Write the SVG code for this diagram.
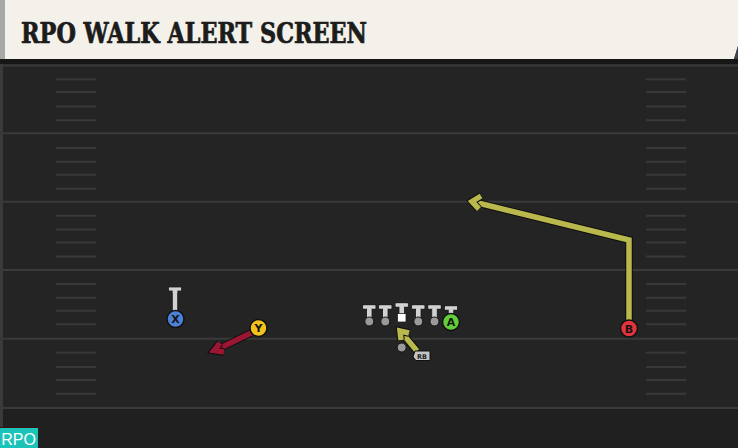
<svg xmlns="http://www.w3.org/2000/svg" width="738" height="448" viewBox="0 0 738 448">
<defs>
<style>
.yard{stroke:#3a3a3a;stroke-width:2;}
.hash{stroke:#383838;stroke-width:2;}
.route-o{fill:none;stroke:#0d0d0d;stroke-width:7.5;stroke-linejoin:miter;stroke-linecap:butt;}
.route-y{fill:none;stroke:#b9b84c;stroke-width:5.5;stroke-linejoin:miter;stroke-linecap:butt;}
.route-r{fill:none;stroke:#9a1632;stroke-width:5.5;stroke-linejoin:miter;stroke-linecap:butt;}
.ring{stroke:#111;stroke-width:1.5;}
.lbl{font-family:"DejaVu Sans","Liberation Sans",sans-serif;font-weight:bold;font-size:11px;fill:#151515;text-anchor:middle;}
.dot{fill:#9a9a9a;stroke:#111;stroke-width:1;}
</style>
<g id="tbar">
<rect x="-6.5" y="0" width="13" height="4" fill="#d2d2d2" stroke="#1a1a1a" stroke-width="0.8"/>
<rect x="-2.7" y="4" width="5.4" height="10" fill="#d2d2d2" stroke="#1a1a1a" stroke-width="0.8"/>
<rect x="-6" y="0.5" width="12" height="3" fill="#d2d2d2"/>
<rect x="-2.2" y="3" width="4.4" height="2" fill="#d2d2d2"/>
</g>
</defs>
<rect x="0" y="0" width="738" height="448" fill="#242424"/>
<rect x="0" y="408" width="738" height="40" fill="#202020"/>
<rect x="0" y="0" width="3" height="448" fill="#3a3a3a"/>
<rect x="0" y="58" width="738" height="6" fill="#161616"/>
<g id="header">
<path d="M0 0 H738 V46 L734 59 H0 Z" fill="#f4f1ea"/>
<rect x="0" y="0" width="5" height="59" fill="#a8a8a8"/>
<path d="M734 59 L738 46 V59 Z" fill="#3a4450"/>
<text x="21" y="43" font-family="'DejaVu Serif Condensed','DejaVu Serif','Liberation Serif',serif" font-weight="bold" font-size="28" fill="#1c1c1c" stroke="#1c1c1c" stroke-width="0.7" textLength="346" lengthAdjust="spacingAndGlyphs">RPO WALK ALERT SCREEN</text>
</g>
<g id="field">
<line class="yard" x1="0" y1="65.5" x2="738" y2="65.5"/>
<line class="yard" x1="0" y1="133.3" x2="738" y2="133.3"/>
<line class="yard" x1="0" y1="201.7" x2="738" y2="201.7"/>
<line class="yard" x1="0" y1="270" x2="738" y2="270"/>
<line class="yard" x1="0" y1="338.7" x2="738" y2="338.7"/>
<line class="yard" x1="0" y1="408" x2="738" y2="408"/>
<g id="hashes-left">
<line class="hash" x1="56" y1="79.3" x2="96" y2="79.3"/><line class="hash" x1="56" y1="92" x2="96" y2="92"/><line class="hash" x1="56" y1="106.5" x2="96" y2="106.5"/><line class="hash" x1="56" y1="120.3" x2="96" y2="120.3"/>
<line class="hash" x1="56" y1="148" x2="96" y2="148"/><line class="hash" x1="56" y1="161.7" x2="96" y2="161.7"/><line class="hash" x1="56" y1="174.7" x2="96" y2="174.7"/><line class="hash" x1="56" y1="188.7" x2="96" y2="188.7"/>
<line class="hash" x1="56" y1="215.7" x2="96" y2="215.7"/><line class="hash" x1="56" y1="229.4" x2="96" y2="229.4"/><line class="hash" x1="56" y1="242.4" x2="96" y2="242.4"/><line class="hash" x1="56" y1="256.4" x2="96" y2="256.4"/>
<line class="hash" x1="56" y1="284" x2="96" y2="284"/><line class="hash" x1="56" y1="297.7" x2="96" y2="297.7"/><line class="hash" x1="56" y1="310.7" x2="96" y2="310.7"/><line class="hash" x1="56" y1="324.3" x2="96" y2="324.3"/>
<line class="hash" x1="56" y1="352.7" x2="96" y2="352.7"/><line class="hash" x1="56" y1="367" x2="96" y2="367"/><line class="hash" x1="56" y1="380" x2="96" y2="380"/><line class="hash" x1="56" y1="393.7" x2="96" y2="393.7"/>
</g>
<g id="hashes-right">
<line class="hash" x1="646" y1="79.3" x2="686" y2="79.3"/><line class="hash" x1="646" y1="92" x2="686" y2="92"/><line class="hash" x1="646" y1="106.5" x2="686" y2="106.5"/><line class="hash" x1="646" y1="120.3" x2="686" y2="120.3"/>
<line class="hash" x1="646" y1="148" x2="686" y2="148"/><line class="hash" x1="646" y1="161.7" x2="686" y2="161.7"/><line class="hash" x1="646" y1="174.7" x2="686" y2="174.7"/><line class="hash" x1="646" y1="188.7" x2="686" y2="188.7"/>
<line class="hash" x1="646" y1="215.7" x2="686" y2="215.7"/><line class="hash" x1="646" y1="229.4" x2="686" y2="229.4"/><line class="hash" x1="646" y1="242.4" x2="686" y2="242.4"/><line class="hash" x1="646" y1="256.4" x2="686" y2="256.4"/>
<line class="hash" x1="646" y1="284" x2="686" y2="284"/><line class="hash" x1="646" y1="297.7" x2="686" y2="297.7"/><line class="hash" x1="646" y1="310.7" x2="686" y2="310.7"/><line class="hash" x1="646" y1="324.3" x2="686" y2="324.3"/>
<line class="hash" x1="646" y1="352.7" x2="686" y2="352.7"/><line class="hash" x1="646" y1="367" x2="686" y2="367"/><line class="hash" x1="646" y1="380" x2="686" y2="380"/><line class="hash" x1="646" y1="393.7" x2="686" y2="393.7"/>
</g>
</g>
<g id="connectors">
<path class="route-o" d="M629 322 V240 L474 202"/>
<path class="route-y" d="M629 322 V240 L474 202"/>
<path class="route-o" d="M481 196 L472 201.5 L479 209"/>
<path class="route-y" d="M481 196 L472 201.5 L479 209"/>
<path class="route-o" d="M251 333 L216 350"/>
<path class="route-r" d="M251 333 L216 350"/>
<path class="route-o" d="M220 343 L214 350.5 L224 352"/>
<path class="route-r" d="M220 343 L214 350.5 L224 352"/>
<path class="route-o" d="M417 351 L402 333"/>
<path class="route-y" d="M417 351 L402 333"/>
<path class="route-o" d="M401 340 L400 331 L409 333"/>
<path class="route-y" d="M401 340 L400 331 L409 333"/>
</g>
<g id="player-x">
<rect x="172.3" y="290" width="5.4" height="22" fill="#d2d2d2" stroke="#1a1a1a" stroke-width="0.8"/>
<rect x="168.5" y="287" width="13" height="4" fill="#d2d2d2" stroke="#1a1a1a" stroke-width="0.8"/>
<rect x="172.7" y="290" width="4.6" height="3" fill="#d2d2d2"/>
<circle class="ring" cx="175.5" cy="319" r="8.5" fill="#4d80d8"/>
<text class="lbl" x="175.5" y="323">X</text>
</g>
<g id="player-y">
<circle class="ring" cx="258.5" cy="328" r="8.5" fill="#f3c21c"/>
<text class="lbl" x="258.5" y="332">Y</text>
</g>
<g id="ol-1"><use href="#tbar" x="369.3" y="305"/><circle class="dot" cx="369.3" cy="321.5" r="4.5"/></g>
<g id="ol-2"><use href="#tbar" x="385.3" y="305"/><circle class="dot" cx="385.3" cy="321.5" r="4.5"/></g>
<g id="center"><use href="#tbar" x="401.7" y="303"/><rect x="397.5" y="313.5" width="8.5" height="8.5" fill="#ffffff" stroke="#222" stroke-width="0.8"/></g>
<g id="ol-4"><use href="#tbar" x="418.3" y="305"/><circle class="dot" cx="418.3" cy="321.5" r="4.5"/></g>
<g id="ol-5"><use href="#tbar" x="434.5" y="305"/><circle class="dot" cx="434.5" cy="321.5" r="4.5"/></g>
<g id="player-a">
<use href="#tbar" x="451" y="306"/>
<circle class="ring" cx="451" cy="322" r="8.5" fill="#62cc3a"/>
<text class="lbl" x="451" y="326">A</text>
</g>
<g id="player-rb">
<circle class="dot" cx="401.7" cy="347.5" r="4.5"/>
<path d="M415 351 H430 V360.5 H416 L413 357 Z" fill="#c4c4c4" stroke="#111" stroke-width="1"/>
<text x="422" y="358.6" font-family="'DejaVu Sans','Liberation Sans',sans-serif" font-weight="bold" font-size="6.5" fill="#222" text-anchor="middle">RB</text>
</g>
<g id="player-b">
<circle class="ring" cx="629" cy="328.5" r="8.5" fill="#e2323c"/>
<text class="lbl" x="629" y="332.5">B</text>
</g>
<g id="rpo-tag">
<rect x="0" y="427" width="38" height="21" fill="#1cc3b8"/>
<line x1="0" y1="427.5" x2="38" y2="427.5" stroke="#3a1010" stroke-width="1"/>
<text x="18.5" y="444.5" font-family="'Liberation Sans','DejaVu Sans',sans-serif" font-size="16" fill="#ffffff" text-anchor="middle">RPO</text>
</g>
</svg>
